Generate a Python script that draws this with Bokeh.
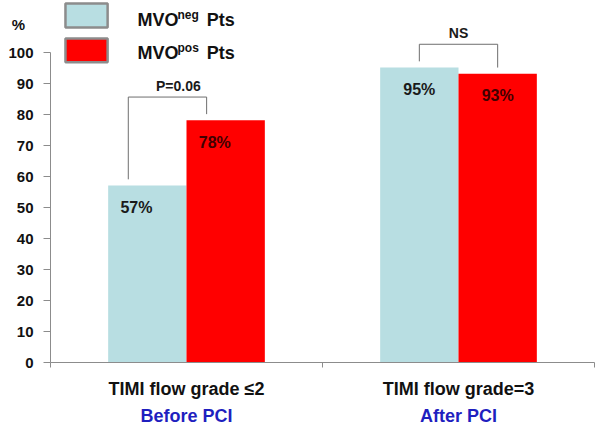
import numpy as np
from bokeh.plotting import figure
from bokeh.models import Range1d, FixedTicker, Label, BoxAnnotation, LinearAxis
from bokeh.core.properties import value
from bokeh.embed import file_html
from bokeh.resources import INLINE

# ---- data ----
categories = ["TIMI flow grade ≤2", "TIMI flow grade=3"]
subtitles = ["Before PCI", "After PCI"]
series_main = ["MVO", "MVO"]
series_sup = ["neg", "pos"]
mvo_neg = [57, 95]
mvo_pos = [78, 93]
p_texts = ["P=0.06", "NS"]
y_ticks = [0, 10, 20, 30, 40, 50, 60, 70, 80, 90, 100]
y_unit = "%"

# ---- style ----
FONT = "Liberation Sans"
BLUE = "#b8dee2"
RED = "#ff0000"
GRAY = "#8c8c8c"
BAR_W = 0.288
BRACKET_SHIFT = [-0.07, 0.0]
PTEXT_SHIFT = [-0.03, 0.0]
LABEL_SHIFT = [-0.04, 0.0]
UNIT_POS = 108.9

p = figure(width=600, height=428, x_range=Range1d(0, 2), y_range=Range1d(0, 116.6),
           output_backend="svg", toolbar_location=None, y_axis_location=None,
           min_border_left=50, min_border_right=6, min_border_top=0, min_border_bottom=65)
p.outline_line_color = None
p.grid.visible = False
p.background_fill_color = "white"

idx = np.arange(len(categories))
x_neg = idx + 0.5 - BAR_W / 2
x_pos = idx + 0.5 + BAR_W / 2

p.vbar(x=x_neg, top=mvo_neg, width=BAR_W, fill_color=BLUE, line_color=None)
p.vbar(x=x_pos, top=mvo_pos, width=BAR_W, fill_color=RED, line_color=None)

# value labels
p.text(x=x_neg + np.array(LABEL_SHIFT), y=np.array(mvo_neg) - 7,
       text=[f"{v}%" for v in mvo_neg], text_align="center", text_baseline="middle",
       text_font=value(FONT), text_font_size="16px", text_font_style="bold", text_color="#1a1a1a")
p.text(x=x_pos + np.array(LABEL_SHIFT), y=np.array(mvo_pos) - 7,
       text=[f"{v}%" for v in mvo_pos], text_align="center", text_baseline="middle",
       text_font=value(FONT), text_font_size="16px", text_font_style="bold", text_color="#400000")

# significance brackets
xs, ys, tx, ty = [], [], [], []
for i in range(len(categories)):
    left = x_neg[i] + BRACKET_SHIFT[i]
    right = x_pos[i] + BRACKET_SHIFT[i]
    top = max(mvo_neg[i], mvo_pos[i]) + 7.5
    xs.append([left, left, right, right])
    ys.append([mvo_neg[i] + 2, top, top, mvo_pos[i] + 2])
    tx.append(i + 0.5 + PTEXT_SHIFT[i])
    ty.append(top + 3.7)
p.multi_line(xs=xs, ys=ys, line_color="#6e6e6e", line_width=1)
p.text(x=tx, y=ty, text=p_texts, text_align="center", text_baseline="middle",
       text_font=value(FONT), text_font_size="14px", text_font_style="bold", text_color="#1a1a1a")

# x axis: category names
xa = p.xaxis[0]
xa.ticker = FixedTicker(ticks=[0.5, 1.5], minor_ticks=[0, 1, 2])
xa.major_label_overrides = {0.5: categories[0], 1.5: categories[1]}
xa.major_tick_line_color = None
xa.major_tick_out = 0
xa.major_tick_in = 0
xa.minor_tick_line_color = GRAY
xa.minor_tick_out = 5
xa.minor_tick_in = 0
xa.axis_line_color = GRAY
xa.major_label_text_font = FONT
xa.major_label_text_font_size = "18px"
xa.major_label_text_font_style = "bold"
xa.major_label_text_color = "#111111"
xa.major_label_standoff = 11

# second x axis: subtitles in blue
xa2 = LinearAxis(ticker=FixedTicker(ticks=[0.5, 1.5], minor_ticks=[]),
                 major_label_overrides={0.5: subtitles[0], 1.5: subtitles[1]})
xa2.axis_line_color = None
xa2.major_tick_line_color = None
xa2.minor_tick_line_color = None
xa2.major_tick_out = 0
xa2.major_tick_in = 0
xa2.major_label_text_font = FONT
xa2.major_label_text_font_size = "18px"
xa2.major_label_text_font_style = "bold"
xa2.major_label_text_color = "#1f1fbf"
xa2.major_label_standoff = 4
p.add_layout(xa2, "below")

# y axis line + ticks (closest to the frame), no labels
ya = LinearAxis(ticker=FixedTicker(ticks=y_ticks, minor_ticks=[]), bounds=(0, 100),
                major_label_overrides={t: "" for t in y_ticks})
ya.major_tick_out = 7
ya.major_tick_in = 0
ya.major_tick_line_color = GRAY
ya.axis_line_color = GRAY
ya.major_label_standoff = 0
p.add_layout(ya, "left")

# y labels axis (numbers and unit sign)
ya2 = LinearAxis(ticker=FixedTicker(ticks=y_ticks + [UNIT_POS], minor_ticks=[]),
                 major_label_overrides={UNIT_POS: y_unit + "\u00a0\u00a0"})
ya2.axis_line_color = None
ya2.major_tick_line_color = None
ya2.minor_tick_line_color = None
ya2.major_tick_out = 0
ya2.major_tick_in = 0
ya2.major_label_text_font = FONT
ya2.major_label_text_font_size = "15px"
ya2.major_label_text_font_style = "bold"
ya2.major_label_text_color = "#111111"
ya2.major_label_standoff = 10
p.add_layout(ya2, "left")

# manual legend
legend_colors = [BLUE, RED]
box_tops = [115.6, 104.4]
box_bots = [107.9, 96.7]
base_y = [110.2, 99.6]
for k in range(2):
    p.add_layout(BoxAnnotation(left=0.055, right=0.210, top=box_tops[k], bottom=box_bots[k],
                               fill_color=legend_colors[k], fill_alpha=1.0,
                               line_color=GRAY, line_width=2.5, line_alpha=1.0))
    p.add_layout(Label(x=0.320, y=base_y[k], text=series_main[k], text_align="left",
                       text_baseline="alphabetic", text_font=FONT, text_font_size="18px",
                       text_font_style="bold", text_color="#111111"))
    p.add_layout(Label(x=0.467, y=base_y[k] + 1.7, text=series_sup[k], text_align="left",
                       text_baseline="alphabetic", text_font=FONT, text_font_size="12px",
                       text_font_style="bold", text_color="#111111"))
    p.add_layout(Label(x=0.574, y=base_y[k], text="Pts", text_align="left",
                       text_baseline="alphabetic", text_font=FONT, text_font_size="18px",
                       text_font_style="bold", text_color="#111111"))

open("out.html", "w").write(file_html(p, INLINE))
